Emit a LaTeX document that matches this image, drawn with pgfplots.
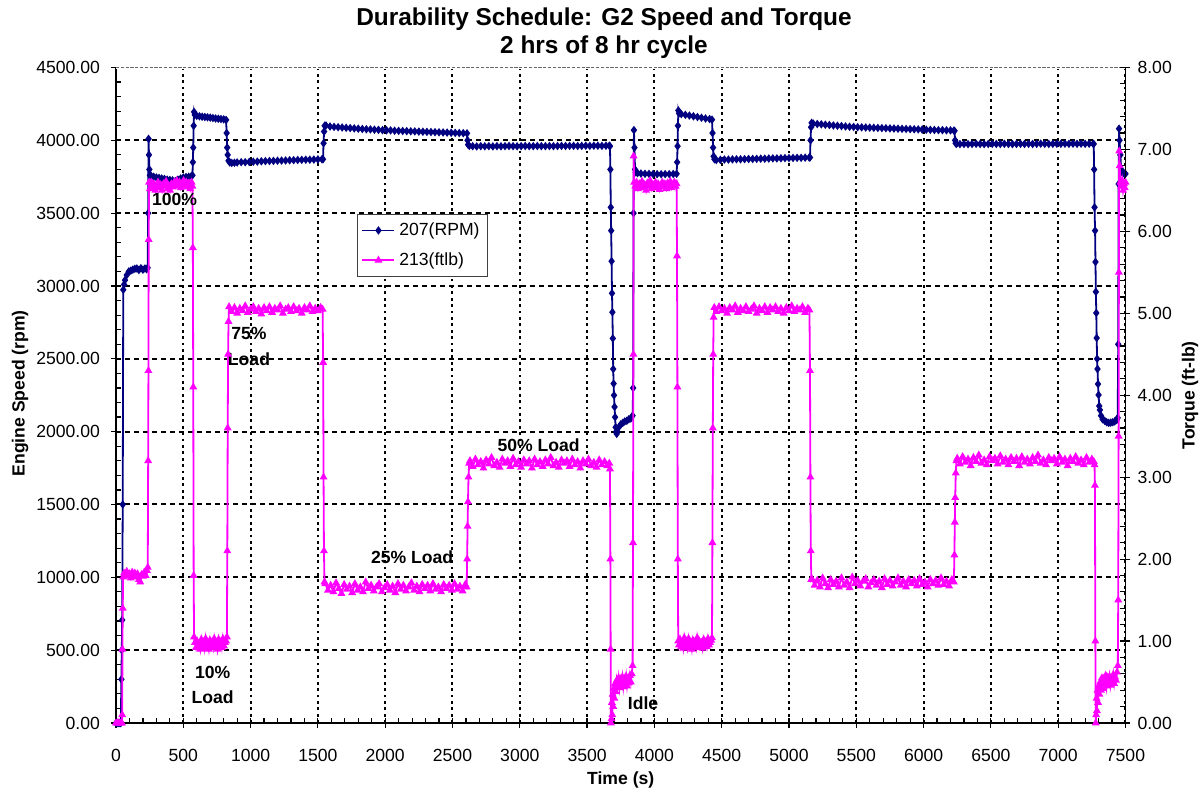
\documentclass[border=0pt]{standalone}
\usepackage{fontspec}
\setmainfont{Liberation Sans}
\usepackage{pgfplots}
\pgfplotsset{compat=1.18}
\definecolor{navyc}{RGB}{0,0,128}
\definecolor{magc}{RGB}{255,0,255}
\newcommand{\lblfont}{\fontsize{8.8pt}{10.5pt}\selectfont}
\newcommand{\tickfont}{\fontsize{8.8pt}{10.5pt}\selectfont}
\begin{document}
\begin{tikzpicture}[font=\lblfont]
\useasboundingbox (-58pt,-37pt) rectangle (544pt,361.5pt);
\pgfplotsset{
  common/.style={
    width=504.75pt, height=327.75pt, scale only axis,
    xmin=0, xmax=7500,
    /pgf/number format/assume math mode=true,
    scaled ticks=false,
    tick align=center, major tick length=5pt, minor tick length=2.5pt,
    tick style={black, line width=0.6pt},
    axis line style={black, line width=0.7pt},
    tick label style={font=\tickfont},
    clip=false,
  }
}
\begin{axis}[common,
  ymin=0, ymax=4500,
  axis x line*=bottom, axis y line*=left,
  xtick={0,500,...,7500}, ytick={0,500,...,4500},
  minor x tick num=4, minor y tick num=4,
  minor x tick style={yshift=1.25pt}, minor y tick style={xshift=1.25pt},
  xticklabel style={/pgf/number format/1000 sep={}, yshift=-7pt},
  yticklabel style={/pgf/number format/fixed, /pgf/number format/fixed zerofill, /pgf/number format/precision=2, /pgf/number format/1000 sep={}, xshift=-2pt},
  xmajorgrids, ymajorgrids,
  x grid style={black, line width=1pt, dash pattern=on 1.4pt off 1.8pt},
  y grid style={black, line width=1pt, dash pattern=on 2.6pt off 1.9pt},
]
\draw[white, line width=1.6pt] (rel axis cs:0,1) -- (rel axis cs:1,1);
\draw[black!60, line width=0.9pt, dash pattern=on 1.6pt off 0.8pt] (rel axis cs:0,1) -- (rel axis cs:1,1);
\addplot[navyc, line width=0.9pt, mark=diamond*, mark size=1.4pt] coordinates {
(0,0)(8,0)(16,0)(24,0)(32,0)(36,0)(40,300)(43,500)(46,707)(50,1500)(54,2974)(60,3010)(67,3040)(80,3075)(95,3100)(110,3105)(125,3112)(140,3118)(155,3120)(170,3110)(185,3122)(200,3112)(215,3120)(228,3115)(235,3125)(239,3500)(242,4010)(245,3900)(248,3800)(252,3760)(262,3755)(280,3750)(300,3745)(320,3742)(340,3738)(360,3735)(380,3730)(400,3728)(420,3725)(440,3720)(460,3730)(480,3738)(500,3745)(520,3748)(540,3750)(560,3755)(568,3760)(571,3850)(574,3950)(577,4100)(580,4195)(585,4175)(600,4168)(620,4165)(640,4162)(660,4160)(680,4158)(700,4156)(720,4153)(740,4150)(760,4148)(780,4146)(800,4144)(818,4140)(822,4050)(826,3950)(830,3900)(836,3860)(845,3848)(860,3845)(880,3846)(900,3848)(930,3850)(960,3850)(990,3852)(1020,3853)(1050,3854)(1080,3856)(1110,3857)(1140,3858)(1170,3859)(1200,3860)(1230,3861)(1260,3862)(1290,3863)(1320,3864)(1350,3865)(1380,3866)(1410,3867)(1440,3867)(1470,3868)(1500,3869)(1530,3870)(1538,3870)(1542,3980)(1546,4060)(1550,4100)(1560,4102)(1590,4095)(1620,4092)(1650,4090)(1680,4088)(1710,4086)(1740,4084)(1770,4082)(1800,4080)(1830,4078)(1860,4076)(1890,4075)(1920,4073)(1950,4072)(1980,4070)(2010,4069)(2040,4068)(2070,4066)(2100,4065)(2130,4064)(2160,4063)(2190,4062)(2220,4061)(2250,4060)(2280,4059)(2310,4058)(2340,4057)(2370,4056)(2400,4055)(2430,4054)(2460,4053)(2490,4052)(2520,4051)(2550,4050)(2580,4049)(2608,4048)(2612,4000)(2616,3970)(2625,3962)(2650,3960)(2680,3958)(2710,3960)(2740,3959)(2770,3960)(2800,3958)(2830,3960)(2860,3959)(2890,3960)(2920,3961)(2950,3960)(2980,3959)(3010,3960)(3040,3961)(3070,3960)(3100,3960)(3130,3961)(3160,3960)(3190,3960)(3220,3961)(3250,3960)(3280,3961)(3310,3962)(3340,3961)(3370,3962)(3400,3962)(3430,3961)(3460,3962)(3490,3963)(3520,3962)(3550,3963)(3580,3963)(3610,3962)(3640,3963)(3665,3963)(3670,3960)(3673,3800)(3676,3540)(3679,3380)(3682,3170)(3685,2950)(3688,2820)(3691,2640)(3694,2430)(3697,2330)(3700,2250)(3704,2170)(3708,2100)(3712,2030)(3716,2000)(3720,1985)(3725,2000)(3735,2030)(3750,2050)(3765,2060)(3780,2070)(3795,2075)(3810,2085)(3825,2090)(3838,2110)(3842,2300)(3845,3500)(3848,4070)(3852,3950)(3856,3800)(3862,3780)(3875,3775)(3900,3772)(3930,3770)(3960,3770)(3990,3768)(4020,3768)(4050,3767)(4080,3768)(4110,3768)(4140,3769)(4165,3770)(4169,3850)(4172,3960)(4175,4100)(4178,4205)(4183,4185)(4200,4180)(4230,4175)(4260,4170)(4290,4165)(4320,4160)(4350,4155)(4380,4150)(4410,4146)(4428,4142)(4432,4050)(4436,3950)(4440,3890)(4446,3870)(4460,3865)(4490,3866)(4520,3868)(4550,3868)(4580,3869)(4610,3870)(4640,3870)(4670,3871)(4700,3872)(4730,3872)(4760,3873)(4790,3874)(4820,3874)(4850,3875)(4880,3876)(4910,3876)(4940,3877)(4970,3878)(5000,3878)(5030,3879)(5060,3880)(5090,3880)(5120,3881)(5150,3882)(5156,3882)(5160,4000)(5164,4090)(5168,4120)(5180,4115)(5210,4112)(5240,4110)(5270,4107)(5300,4105)(5330,4102)(5360,4100)(5390,4098)(5420,4095)(5450,4093)(5480,4092)(5510,4090)(5540,4089)(5570,4088)(5600,4087)(5630,4086)(5660,4085)(5690,4084)(5720,4083)(5750,4082)(5780,4081)(5810,4080)(5840,4079)(5870,4078)(5900,4077)(5930,4076)(5960,4075)(5990,4074)(6020,4073)(6050,4072)(6080,4071)(6110,4070)(6140,4070)(6170,4069)(6200,4068)(6225,4067)(6230,4065)(6234,4000)(6238,3980)(6245,3976)(6270,3974)(6300,3975)(6330,3974)(6360,3975)(6390,3976)(6420,3975)(6450,3974)(6480,3975)(6510,3976)(6540,3975)(6570,3975)(6600,3976)(6630,3975)(6660,3974)(6690,3975)(6720,3976)(6750,3975)(6780,3976)(6810,3975)(6840,3976)(6870,3977)(6900,3976)(6930,3975)(6960,3976)(6990,3977)(7020,3976)(7050,3977)(7080,3976)(7110,3977)(7140,3976)(7170,3977)(7200,3976)(7230,3977)(7260,3976)(7264,3975)(7267,3800)(7270,3540)(7274,3380)(7277,3165)(7280,2960)(7283,2815)(7286,2643)(7289,2500)(7292,2430)(7296,2327)(7300,2252)(7305,2176)(7310,2149)(7318,2110)(7330,2085)(7345,2075)(7360,2065)(7375,2060)(7390,2062)(7405,2065)(7420,2070)(7435,2080)(7442,2095)(7446,2600)(7449,3700)(7452,4080)(7456,4000)(7462,3900)(7468,3800)(7475,3780)(7485,3775)(7495,3772)(7500,3770)
};
\node[font=\fontsize{12.2pt}{14pt}\selectfont\bfseries, anchor=base] at ([yshift=20.75pt]rel axis cs:0.4834,1) {Durability Schedule: G2 Speed and Torque};
\node[font=\fontsize{12.2pt}{14pt}\selectfont\bfseries, anchor=base] at ([yshift=7.1pt]rel axis cs:0.4834,1) {2 hrs of 8 hr cycle};
\node[font=\lblfont\bfseries] at ([yshift=-28.5pt]rel axis cs:0.5,0) {Time (s)};
\node[font=\lblfont\bfseries, rotate=90] at ([xshift=-48pt]rel axis cs:0,0.503) {Engine Speed (rpm)};
\end{axis}
\begin{axis}[common,
  ymin=0, ymax=8,
  axis x line=none, axis y line*=right,
  ytick={0,1,...,8}, minor y tick num=4,
  minor y tick style={xshift=-1.25pt},
  yticklabel style={/pgf/number format/fixed, /pgf/number format/fixed zerofill, /pgf/number format/precision=2, xshift=0pt},
  legend style={at={(0.2387,0.7765)}, anchor=north west, draw=black!75, line width=0.6pt, fill=white, font=\lblfont, inner xsep=2pt, inner ysep=2pt, row sep=3pt},
  legend cell align=left,
  legend image code/.code={\draw[#1, mark repeat=2, mark phase=2] plot coordinates {(0pt,0pt)(8pt,0pt)(16pt,0pt)};},
]
\addlegendimage{navyc, line width=0.9pt, mark=diamond*, mark size=1.4pt}
\addlegendentry{207(RPM)}
\addplot[magc, line width=0.9pt, mark=triangle*, mark size=1.4pt] coordinates {
(0,0)(10,0)(20,0)(30,0)(38,0)(44,0)(46,0.1)(48,0.9)(50,1.4)(53,1.78)(60,1.83)(70,1.79)(80,1.85)(90,1.8)(100,1.82)(110,1.77)(120,1.84)(130,1.8)(140,1.83)(150,1.78)(160,1.82)(170,1.75)(180,1.72)(190,1.81)(200,1.79)(210,1.84)(220,1.8)(230,1.86)(236,1.9)(239,3.2)(241,4.3)(243,5.9)(246,6.6)(252,6.52)(262,6.6)(272,6.54)(282,6.58)(292,6.5)(302,6.56)(312,6.6)(322,6.53)(332,6.57)(342,6.5)(352,6.58)(362,6.55)(372,6.61)(382,6.52)(392,6.56)(402,6.5)(412,6.58)(422,6.54)(432,6.6)(442,6.55)(452,6.62)(462,6.57)(472,6.6)(482,6.53)(492,6.58)(502,6.62)(512,6.56)(522,6.6)(532,6.54)(542,6.59)(552,6.52)(562,6.6)(568,6.55)(571,5.8)(574,4.1)(577,1.8)(580,1.05)(586,0.98)(594,0.92)(602,1.0)(610,0.93)(618,0.97)(626,0.9)(634,1.02)(642,0.95)(650,0.99)(658,0.91)(666,1.03)(674,0.94)(682,0.98)(690,0.9)(698,1.01)(706,0.95)(714,0.99)(722,0.92)(730,1.03)(738,0.94)(746,0.98)(754,0.9)(762,1.02)(770,0.95)(778,0.99)(786,0.92)(794,1.03)(802,0.94)(810,0.98)(818,1.0)(824,1.05)(827,2.1)(830,3.6)(833,4.5)(836,4.9)(840,5.08)(860,5.02)(880,5.07)(900,5.0)(920,5.06)(940,5.03)(960,5.09)(980,5.01)(1000,5.05)(1020,5.08)(1040,5.02)(1060,5.06)(1080,4.99)(1100,5.07)(1120,5.03)(1140,5.08)(1160,5.01)(1180,5.06)(1200,5.04)(1220,5.09)(1240,5.0)(1260,5.05)(1280,5.07)(1300,5.02)(1320,5.08)(1340,5.03)(1360,5.06)(1380,5.0)(1400,5.07)(1420,5.04)(1440,5.09)(1460,5.02)(1480,5.06)(1500,5.03)(1520,5.07)(1535,5.05)(1539,4.4)(1542,3.0)(1545,2.1)(1549,1.72)(1555,1.7)(1575,1.62)(1595,1.68)(1615,1.6)(1635,1.71)(1655,1.64)(1675,1.58)(1695,1.69)(1715,1.63)(1735,1.67)(1755,1.59)(1775,1.7)(1795,1.62)(1815,1.66)(1835,1.6)(1855,1.72)(1875,1.64)(1895,1.68)(1915,1.61)(1935,1.66)(1955,1.7)(1975,1.6)(1995,1.65)(2015,1.69)(2035,1.62)(2055,1.67)(2075,1.59)(2095,1.7)(2115,1.63)(2135,1.68)(2155,1.61)(2175,1.66)(2195,1.71)(2215,1.62)(2235,1.67)(2255,1.6)(2275,1.69)(2295,1.64)(2315,1.68)(2335,1.61)(2355,1.7)(2375,1.63)(2395,1.66)(2415,1.6)(2435,1.69)(2455,1.64)(2475,1.68)(2495,1.62)(2515,1.7)(2535,1.63)(2555,1.67)(2575,1.61)(2595,1.69)(2605,1.66)(2609,2.0)(2612,2.4)(2615,2.7)(2619,3.0)(2624,3.17)(2630,3.2)(2650,3.13)(2670,3.22)(2690,3.15)(2710,3.19)(2730,3.11)(2750,3.21)(2770,3.16)(2790,3.24)(2810,3.14)(2830,3.18)(2850,3.12)(2870,3.22)(2890,3.17)(2910,3.2)(2930,3.13)(2950,3.23)(2970,3.15)(2990,3.19)(3010,3.12)(3030,3.21)(3050,3.16)(3070,3.2)(3090,3.11)(3110,3.22)(3130,3.15)(3150,3.19)(3170,3.13)(3190,3.21)(3210,3.16)(3230,3.24)(3250,3.14)(3270,3.18)(3290,3.12)(3310,3.21)(3330,3.17)(3350,3.2)(3370,3.13)(3390,3.22)(3410,3.15)(3430,3.19)(3450,3.11)(3470,3.2)(3490,3.16)(3510,3.22)(3530,3.14)(3550,3.18)(3570,3.12)(3590,3.21)(3610,3.15)(3630,3.19)(3650,3.14)(3665,3.17)(3670,3.1)(3673,2.0)(3675,0.9)(3677,0.0)(3681,0.05)(3684,0.25)(3687,0.1)(3690,0.35)(3694,0.2)(3698,0.42)(3703,0.3)(3708,0.48)(3714,0.38)(3720,0.52)(3727,0.45)(3734,0.55)(3741,0.43)(3748,0.53)(3755,0.47)(3762,0.56)(3769,0.44)(3776,0.54)(3783,0.48)(3790,0.57)(3797,0.45)(3804,0.53)(3811,0.49)(3818,0.58)(3825,0.5)(3832,0.6)(3838,0.7)(3841,2.2)(3844,4.5)(3846,6.92)(3850,6.6)(3858,6.55)(3868,6.6)(3878,6.52)(3888,6.58)(3898,6.54)(3908,6.61)(3918,6.53)(3928,6.57)(3938,6.5)(3948,6.59)(3958,6.55)(3968,6.62)(3978,6.52)(3988,6.57)(3998,6.54)(4008,6.6)(4018,6.53)(4028,6.58)(4038,6.51)(4048,6.56)(4058,6.6)(4068,6.54)(4078,6.58)(4088,6.52)(4098,6.59)(4108,6.55)(4118,6.61)(4128,6.53)(4138,6.57)(4148,6.6)(4158,6.55)(4165,6.58)(4168,5.7)(4171,4.1)(4174,2.0)(4177,1.0)(4182,0.95)(4190,1.02)(4198,0.93)(4206,0.99)(4214,0.91)(4222,1.04)(4230,0.96)(4238,1.0)(4246,0.92)(4254,1.03)(4262,0.95)(4270,0.98)(4278,0.9)(4286,1.01)(4294,0.94)(4302,0.99)(4310,0.92)(4318,1.04)(4326,0.95)(4334,1.0)(4342,0.93)(4350,0.98)(4358,0.91)(4366,1.02)(4374,0.96)(4382,0.99)(4390,0.93)(4398,1.03)(4406,0.95)(4414,0.98)(4422,1.01)(4428,1.04)(4431,2.2)(4434,3.6)(4437,4.5)(4440,4.95)(4445,5.07)(4460,5.02)(4480,5.08)(4500,5.03)(4520,5.06)(4540,5.0)(4560,5.07)(4580,5.04)(4600,5.09)(4620,5.01)(4640,5.06)(4660,5.03)(4680,5.08)(4700,5.02)(4720,5.05)(4740,5.09)(4760,5.0)(4780,5.06)(4800,5.03)(4820,5.08)(4840,5.01)(4860,5.07)(4880,5.04)(4900,5.08)(4920,5.02)(4940,5.06)(4960,5.0)(4980,5.07)(5000,5.03)(5020,5.09)(5040,5.02)(5060,5.06)(5080,5.04)(5100,5.08)(5120,5.01)(5140,5.06)(5152,5.04)(5156,4.3)(5159,3.0)(5162,2.1)(5166,1.75)(5170,1.76)(5190,1.68)(5210,1.74)(5230,1.66)(5250,1.77)(5270,1.7)(5290,1.65)(5310,1.75)(5330,1.69)(5350,1.73)(5370,1.66)(5390,1.77)(5410,1.68)(5430,1.72)(5450,1.65)(5470,1.78)(5490,1.7)(5510,1.74)(5530,1.67)(5550,1.73)(5570,1.76)(5590,1.66)(5610,1.71)(5630,1.75)(5650,1.68)(5670,1.73)(5690,1.65)(5710,1.76)(5730,1.69)(5750,1.74)(5770,1.67)(5790,1.72)(5810,1.77)(5830,1.68)(5850,1.73)(5870,1.66)(5890,1.75)(5910,1.7)(5930,1.74)(5950,1.67)(5970,1.76)(5990,1.69)(6010,1.72)(6030,1.66)(6050,1.75)(6070,1.7)(6090,1.74)(6110,1.68)(6130,1.77)(6150,1.69)(6170,1.73)(6190,1.67)(6210,1.75)(6225,1.72)(6229,2.05)(6232,2.45)(6235,2.75)(6239,3.05)(6244,3.2)(6250,3.23)(6270,3.16)(6290,3.25)(6310,3.18)(6330,3.22)(6350,3.14)(6370,3.24)(6390,3.19)(6410,3.27)(6430,3.17)(6450,3.21)(6470,3.15)(6490,3.25)(6510,3.2)(6530,3.23)(6550,3.16)(6570,3.26)(6590,3.18)(6610,3.22)(6630,3.15)(6650,3.24)(6670,3.19)(6690,3.23)(6710,3.14)(6730,3.25)(6750,3.18)(6770,3.22)(6790,3.16)(6810,3.24)(6830,3.19)(6850,3.27)(6870,3.17)(6890,3.21)(6910,3.15)(6930,3.24)(6950,3.2)(6970,3.23)(6990,3.16)(7010,3.25)(7030,3.18)(7050,3.22)(7070,3.14)(7090,3.23)(7110,3.19)(7130,3.25)(7150,3.17)(7170,3.21)(7190,3.15)(7210,3.24)(7230,3.18)(7250,3.22)(7265,3.19)(7270,3.15)(7273,2.9)(7276,1.0)(7279,0.0)(7282,0.1)(7285,0.3)(7288,0.15)(7292,0.4)(7296,0.25)(7300,0.45)(7306,0.35)(7312,0.5)(7318,0.4)(7325,0.55)(7332,0.42)(7339,0.53)(7346,0.47)(7353,0.58)(7360,0.45)(7367,0.55)(7374,0.49)(7381,0.57)(7388,0.46)(7395,0.54)(7402,0.5)(7409,0.59)(7416,0.48)(7423,0.56)(7430,0.52)(7437,0.62)(7443,0.7)(7446,1.5)(7449,3.5)(7451,5.5)(7453,6.98)(7457,6.8)(7462,6.6)(7468,6.55)(7475,6.62)(7482,6.5)(7489,6.58)(7495,6.53)(7500,6.6)
};
\addlegendentry{213(ftlb)}
\node[font=\lblfont\bfseries] at (axis cs:435,6.395) {100\%};
\node[font=\lblfont\bfseries] at (axis cs:988,4.748) {75\%};
\node[font=\lblfont\bfseries] at (axis cs:988,4.443) {Load};
\node[font=\lblfont\bfseries] at (axis cs:718,0.622) {10\%};
\node[font=\lblfont\bfseries] at (axis cs:718,0.316) {Load};
\node[font=\lblfont\bfseries] at (axis cs:2200,2.027) {25\% Load};
\node[font=\lblfont\bfseries] at (axis cs:3140,3.392) {50\% Load};
\node[font=\lblfont\bfseries] at (axis cs:3916,0.244) {Idle};
\node[font=\lblfont\bfseries, rotate=90] at ([xshift=32.25pt]rel axis cs:1,0.5) {Torque (ft-lb)};
\end{axis}
\end{tikzpicture}
\end{document}
